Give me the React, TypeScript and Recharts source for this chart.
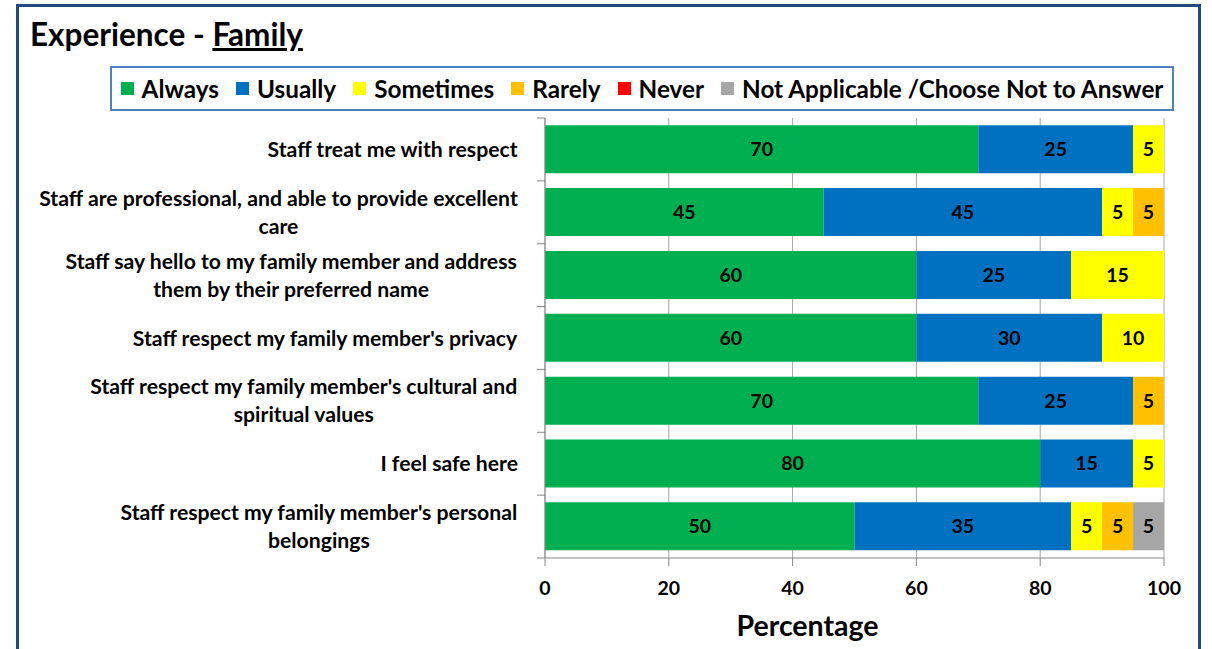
import React from "react";
import {
  BarChart,
  Bar,
  XAxis,
  YAxis,
  CartesianGrid,
  LabelList,
} from "recharts";

// Survey rows, top to bottom. "\n" marks where the label wraps.
const categories = [
  "Staff treat me with respect",
  "Staff are professional, and able to provide excellent\ncare",
  "Staff say hello to my family member and address\nthem by their preferred name",
  "Staff respect my family member's privacy",
  "Staff respect my family member's cultural and\nspiritual values",
  "I feel safe here",
  "Staff respect my family member's personal\nbelongings",
];

const always = [70, 45, 60, 60, 70, 80, 50];
const usually = [25, 45, 25, 30, 25, 15, 35];
const sometimes = [5, 5, 15, 10, 0, 5, 5];
const rarely = [0, 5, 0, 0, 5, 0, 5];
const never = [0, 0, 0, 0, 0, 0, 0];
const notApplicable = [0, 0, 0, 0, 0, 0, 5];

const xTicks = [0, 20, 40, 60, 80, 100];

const series = [
  { key: "always", name: "Always", color: "#00B050", values: always },
  { key: "usually", name: "Usually", color: "#0070C0", values: usually },
  { key: "sometimes", name: "Sometimes", color: "#FFFF00", values: sometimes },
  { key: "rarely", name: "Rarely", color: "#FFC000", values: rarely },
  { key: "never", name: "Never", color: "#FF0000", values: never },
  { key: "na", name: "Not Applicable /Choose Not to Answer", color: "#A6A6A6", values: notApplicable },
];

const data = categories.map((label, i) => {
  const row: Record<string, number | string> = { label };
  series.forEach((s) => (row[s.key] = s.values[i]));
  return row;
});

const FONT = "Lato, 'Open Sans', sans-serif";
const AXIS = "#868686";
const W = 1212;
const H = 649;
const TOP = 118;
const BOTTOM = 91;
const BAND = (H - TOP - BOTTOM) / categories.length;
const CAT_FONT = 21.2;

let ctx: CanvasRenderingContext2D | null = null;
function textWidth(s: string, font: string) {
  if (!ctx) ctx = document.createElement("canvas").getContext("2d");
  if (!ctx) return s.length * 9;
  ctx.font = font;
  return ctx.measureText(s).width;
}

/** Wrapped category label, lines centred on each other, block right-aligned —
 *  plus Excel-style tick marks at the band edges rather than the centre. */
function CategoryTick(props: {
  x?: number;
  y?: number;
  index?: number;
  payload?: { value: string };
}) {
  const { x, y, index, payload } = props;
  if (x == null || y == null || !payload) return null;
  const lines = String(payload.value).split("\n");
  const blockW = Math.max(...lines.map((l) => textWidth(l, `bold ${CAT_FONT}px Lato`)));
  const cx = x - blockW / 2;
  const axisX = 545;
  const last = index === categories.length - 1;
  return (
    <g>
      <line x1={axisX - 8} x2={axisX} y1={y - BAND / 2} y2={y - BAND / 2} stroke={AXIS} />
      {last && (
        <line x1={axisX - 8} x2={axisX} y1={y + BAND / 2} y2={y + BAND / 2} stroke={AXIS} />
      )}
      {lines.map((l, i) => (
        <text
          key={i}
          x={cx}
          y={y + (i - (lines.length - 1) / 2) * 28}
          dy="0.36em"
          textAnchor="middle"
          fill="#000"
          fontSize={CAT_FONT}
          fontWeight={700}
          fontFamily={FONT}
        >
          {l}
        </text>
      ))}
    </g>
  );
}

function AxisTitle(props: { viewBox?: { x?: number; y?: number; width?: number } }) {
  const vb = props.viewBox;
  if (!vb || vb.x == null || vb.y == null || vb.width == null) return null;
  return (
    <text
      x={vb.x + vb.width / 2 - 47}
      y={vb.y + 78}
      textAnchor="middle"
      fill="#000"
      fontSize={28.5}
      fontWeight={700}
      fontFamily={FONT}
    >
      Percentage
    </text>
  );
}

export default function App() {
  return (
    <div
      style={{
        position: "absolute",
        left: 0,
        top: 0,
        width: W,
        height: H,
        overflow: "hidden",
        background: "#fff",
        fontFamily: FONT,
      }}
    >
      <div
        style={{
          position: "absolute",
          left: 16,
          top: 4,
          width: 1179,
          height: 700,
          border: "3px solid #24497D",
        }}
      />
      <div
        style={{
          position: "absolute",
          left: 30,
          top: 14,
          fontSize: 31.5,
          fontWeight: 700,
          lineHeight: "40px",
          color: "#000",
        }}
      >
        Experience - <span style={{ textDecoration: "underline" }}>Family</span>
      </div>
      <div
        style={{
          position: "absolute",
          left: 110,
          top: 66,
          width: 1060,
          height: 41,
          border: "2px solid #4F81BD",
          background: "#fff",
          display: "flex",
          alignItems: "center",
          justifyContent: "center",
          gap: 17,
          fontSize: 24.3,
          fontWeight: 700,
          color: "#000",
        }}
      >
        {series.map((s) => (
          <div key={s.key} style={{ display: "flex", alignItems: "center", gap: 8 }}>
            <span style={{ width: 13, height: 13, background: s.color, display: "inline-block" }} />
            <span>{s.name}</span>
          </div>
        ))}
      </div>
      <div style={{ position: "absolute", left: 0, top: 0 }}>
        <BarChart
          width={W}
          height={H}
          data={data}
          layout="vertical"
          margin={{ top: TOP, right: 48, bottom: 0, left: 0 }}
          barCategoryGap="11.5%"
        >
          <CartesianGrid horizontal={false} stroke="#A6A6A6" />
          <XAxis
            type="number"
            domain={[0, 100]}
            ticks={xTicks}
            interval={0}
            height={BOTTOM}
            axisLine={{ stroke: AXIS }}
            tickLine={{ stroke: AXIS }}
            tickSize={8}
            tickMargin={15}
            tick={{ fill: "#000", fontSize: 19.5, fontWeight: 700, fontFamily: FONT }}
            label={<AxisTitle />}
          />
          <YAxis
            type="category"
            dataKey="label"
            width={545}
            axisLine={{ stroke: AXIS }}
            tickLine={false}
            tickSize={8}
            tickMargin={19}
            interval={0}
            tick={<CategoryTick />}
          />
          {series.map((s) => (
            <Bar
              key={s.key}
              dataKey={s.key}
              name={s.name}
              stackId="a"
              fill={s.color}
              isAnimationActive={false}
            >
              <LabelList
                dataKey={s.key}
                position="center"
                formatter={(v: number) => (v ? String(v) : "")}
                fill="#000"
                fontSize={19.5}
                fontWeight={700}
                fontFamily={FONT}
              />
            </Bar>
          ))}
        </BarChart>
      </div>
    </div>
  );
}
